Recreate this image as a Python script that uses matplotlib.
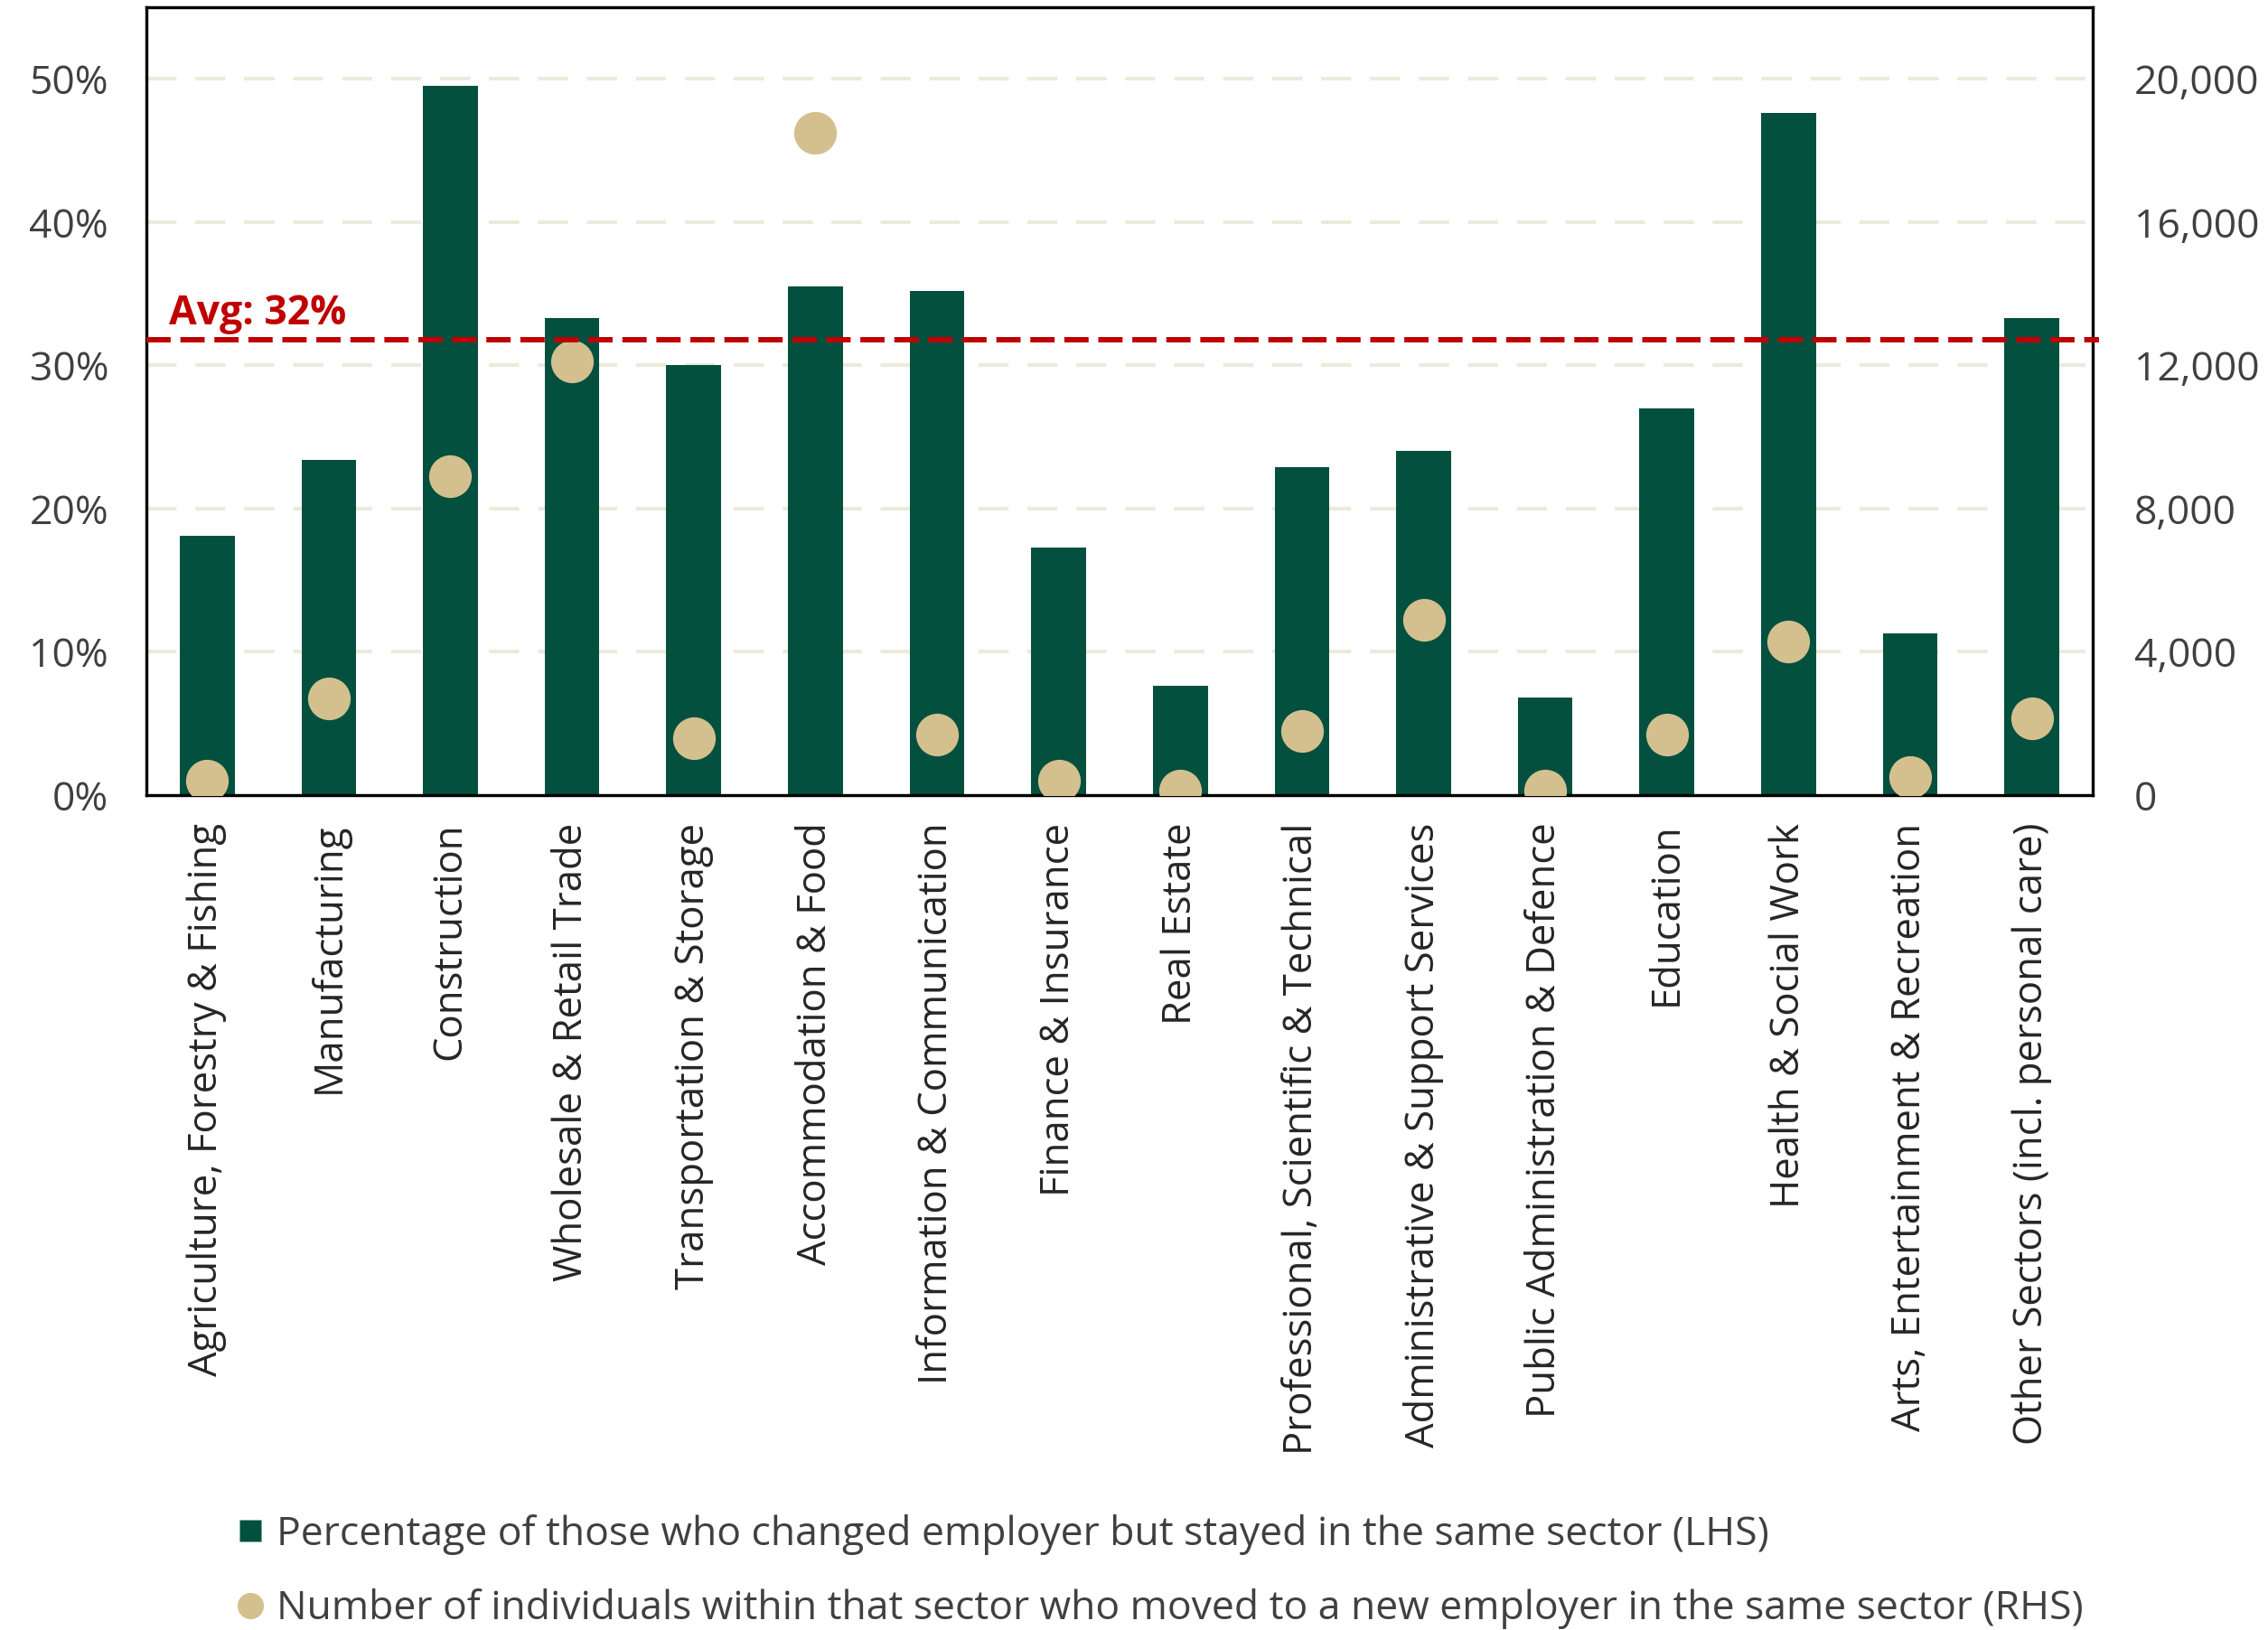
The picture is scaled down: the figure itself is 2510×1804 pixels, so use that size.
import matplotlib
matplotlib.use("Agg")
import matplotlib.pyplot as plt
from matplotlib.lines import Line2D
from matplotlib.ticker import FuncFormatter
import numpy as np

sectors = [
    "Agriculture, Forestry & Fishing", "Manufacturing", "Construction",
    "Wholesale & Retail Trade", "Transportation & Storage", "Accommodation & Food",
    "Information & Communication", "Finance & Insurance", "Real Estate",
    "Professional, Scientific & Technical", "Administrative & Support Services",
    "Public Administration & Defence", "Education", "Health & Social Work",
    "Arts, Entertainment & Recreation", "Other Sectors (incl. personal care)",
]
pct_same_sector = [0.181, 0.234, 0.495, 0.333, 0.300, 0.355, 0.352, 0.173,
                   0.076, 0.229, 0.240, 0.068, 0.270, 0.476, 0.113, 0.333]
n_moved = [400, 2700, 8900, 12100, 1600, 18500, 1700, 400,
           120, 1800, 4900, 120, 1700, 4300, 500, 2150]
avg_pct = 0.318
avg_label = "Avg: 32%"
left_ticks = [0, 0.1, 0.2, 0.3, 0.4, 0.5]
right_ticks = [0, 4000, 8000, 12000, 16000, 20000]
legend_labels = [
    "Percentage of those who changed employer but stayed in the same sector (LHS)",
    "Number of individuals within that sector who moved to a new employer in the same sector (RHS)",
]

BAR = "#03503F"
DOT = "#D4C08F"
GRID = "#EEEADB"
RED = "#C00000"
TXT = "#404040"

plt.rcParams['font.family'] = ['Open Sans', 'DejaVu Sans']

fig = plt.figure(figsize=(25.1, 18.04), dpi=100)
ax = fig.add_axes([0.0645, 0.5122, 0.8582, 0.4834])
ax2 = ax.twinx()

x = np.arange(len(sectors))
ax.set_zorder(1)
ax2.set_zorder(2)
ax.patch.set_visible(False)

for t in left_ticks[1:]:
    ax.axhline(t, color=GRID, lw=3, ls=(0, (8, 5)), zorder=0)
ax.bar(x, pct_same_sector, width=0.45, color=BAR, zorder=2)
ax.set_ylim(0, 0.55)
ax.set_xlim(-0.5, len(sectors) - 0.5)
ax2.set_ylim(0, 22000)

ax2.plot(x, n_moved, ls="none", marker="o", ms=34, color=DOT, mec="none", zorder=3)

ax2.plot([-0.5, len(sectors) - 0.45], [avg_pct * 40000] * 2, color=RED, lw=4.3,
         ls=(0, (4.5, 1.8)), clip_on=False, zorder=4)
ax2.text(-0.31, avg_pct * 40000 + 150, avg_label, color=RED, fontsize=32,
         fontweight="bold", ha="left", va="bottom")

ax.set_yticks(left_ticks)
ax.yaxis.set_major_formatter(FuncFormatter(lambda v, p: f"{v*100:.0f}%"))
ax2.set_yticks(right_ticks)
ax2.yaxis.set_major_formatter(FuncFormatter(lambda v, p: f"{v:,.0f}"))
ax.set_xticks(x)
ax.set_xticklabels(sectors, rotation=90, fontsize=31.5, color="#262626")
ax.tick_params(axis="x", length=0, pad=22)
ax.tick_params(axis="y", length=0, labelsize=32, labelcolor=TXT, pad=30)
ax2.tick_params(axis="y", length=0, labelsize=32, labelcolor=TXT, pad=33)

for a in (ax, ax2):
    for s in a.spines.values():
        s.set_linewidth(2.3)
        s.set_color("black")

handles = [
    Line2D([], [], ls="none", marker="s", ms=17, color=BAR, mec="none"),
    Line2D([], [], ls="none", marker="o", ms=21, color=DOT, mec="none"),
]
leg = fig.legend(handles, legend_labels, loc="upper left", bbox_to_anchor=(0.105, 0.071),
                 frameon=False, fontsize=32, handlelength=0.6, handletextpad=0.35,
                 labelspacing=0.84, borderpad=0, borderaxespad=0, labelcolor=TXT)

fig.savefig("out.png", dpi=100)
